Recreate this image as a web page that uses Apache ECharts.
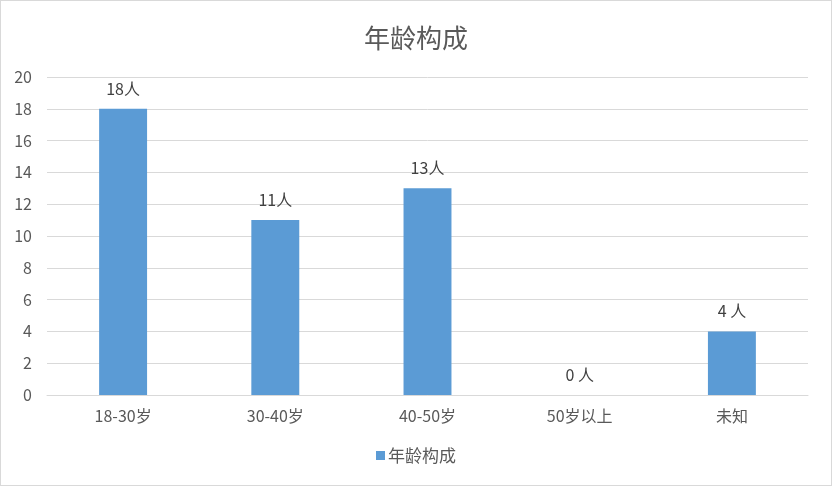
<!DOCTYPE html>
<html><head><meta charset="utf-8">
<script src="https://cdn.jsdelivr.net/npm/echarts@6/dist/echarts.min.js"></script>
<style>html,body{margin:0;padding:0;background:#fff}#c{width:830px;height:484px;border:1px solid #d9d9d9}</style>
</head><body><div id="c"></div>
<script>
const categories = ['18-30岁', '30-40岁', '40-50岁', '50岁以上', '未知'];
const values = [18, 11, 13, 0, 4];
const labels = ['18人', '11人', '13人', '0 人', '4 人'];
const seriesName = '年龄构成';
const titleText = '年龄构成';

const chart = echarts.init(document.getElementById('c'));
const font = '"Microsoft YaHei","Noto Sans CJK SC",sans-serif';
chart.setOption({
  animation: false,
  title: { text: titleText, left: 'center', top: 19, textStyle: { fontFamily: font, fontSize: 26, fontWeight: 'normal', color: '#595959' } },
  legend: { bottom: 16, left: 'center', itemWidth: 9, itemHeight: 9, itemGap: 3, icon: 'rect', data: [seriesName],
    textStyle: { fontFamily: font, fontSize: 17, color: '#595959', padding: [0, 0, 0, -2] } },
  grid: { left: 46, right: 23, top: 76, bottom: 90, containLabel: false },
  xAxis: { type: 'category', data: categories,
    axisLine: { lineStyle: { color: '#d9d9d9' } }, axisTick: { show: false },
    axisLabel: { fontFamily: font, fontSize: 16, color: '#595959', margin: 13 } },
  yAxis: { type: 'value', min: 0, max: 20, interval: 2,
    axisLine: { show: false }, axisTick: { show: false },
    splitLine: { lineStyle: { color: '#d9d9d9' } },
    axisLabel: { fontFamily: font, fontSize: 16, color: '#595959', margin: 15 } },
  series: [{ name: seriesName, type: 'bar', data: values, barWidth: '31.5%',
    itemStyle: { color: '#5b9bd5' },
    label: { show: true, position: 'top', distance: 12, fontFamily: font, fontSize: 16, color: '#404040',
      formatter: p => labels[p.dataIndex] } }]
});
</script></body></html>
